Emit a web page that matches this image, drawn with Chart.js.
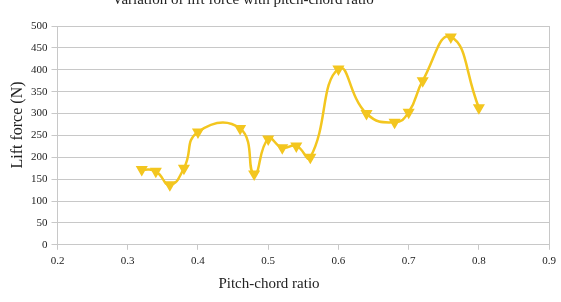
<!DOCTYPE html>
<html>
<head>
<meta charset="utf-8">
<script src="https://cdn.jsdelivr.net/npm/chart.js@4/dist/chart.umd.min.js"></script>
<style>
  html, body { margin: 0; padding: 0; background: #fff; }
  #wrap { width: 561px; height: 302px; }
</style>
</head>
<body>
<div id="wrap"><canvas id="liftChart" width="561" height="302"></canvas></div>
<script>
const pitchChord = [0.32, 0.34, 0.36, 0.38, 0.40, 0.46, 0.48, 0.50, 0.52, 0.54, 0.56, 0.60, 0.64, 0.68, 0.70, 0.72, 0.76, 0.80]
const liftForce = [172, 168, 137, 175, 258, 266, 162, 242, 222, 226, 200, 402, 300, 280, 303, 375, 475, 313]
const xTicks = [0.2, 0.3, 0.4, 0.5, 0.6, 0.7, 0.8, 0.9]
const yTicks = [0, 50, 100, 150, 200, 250, 300, 350, 400, 450, 500]

const serif = "'Liberation Serif', 'DejaVu Serif', serif"
const gridGrey = '#c8c8c8'
const lineYellow = '#f3c61f'

// Excel puts the titles relative to the whole chart, not the plot area
const freeTitles = {
    id: 'freeTitles',
    afterDraw(chart) {
        const ctx = chart.ctx
        ctx.save()
        ctx.fillStyle = '#222'
        ctx.textAlign = 'center'
        ctx.textBaseline = 'alphabetic'
        ctx.font = '15px ' + serif
        ctx.fillText('Variation of lift force with pitch-chord ratio', 243, 4)
        ctx.fillText('Pitch-chord ratio', 269, 288)
        ctx.translate(18, 125)
        ctx.rotate(-Math.PI / 2)
        ctx.textBaseline = 'middle'
        ctx.font = '16px ' + serif
        ctx.fillText('Lift force (N)', 0, 0)
        ctx.restore()
    }
}

new Chart(document.getElementById('liftChart'), {
    type: 'line',
    data: {
        datasets: [{
            label: 'Lift force',
            data: pitchChord.map((x, i) => ({x, y: liftForce[i]})),
            borderColor: lineYellow,
            backgroundColor: lineYellow,
            borderWidth: 2.5,
            tension: 0.5,
            pointStyle: 'triangle',
            rotation: 180,
            pointRadius: 4.5,
            pointHoverRadius: 4.5,
            fill: false
        }]
    },
    options: {
        responsive: false,
        animation: false,
        layout: {padding: {top: 26, right: 11, left: 27, bottom: 29}},
        plugins: {
            legend: {display: false},
            tooltip: {enabled: false},
            title: {display: false}
        },
        scales: {
            x: {
                type: 'linear',
                min: 0.2,
                max: 0.9,
                afterBuildTicks: axis => { axis.ticks = xTicks.map(value => ({value})) },
                ticks: {
                    color: '#222',
                    font: {family: serif, size: 11},
                    padding: 5,
                    callback: v => v.toFixed(1)
                },
                grid: {
                    color: ctx => ctx.tick && ctx.tick.value === 0.9 ? gridGrey : 'rgba(0,0,0,0)',
                    tickColor: gridGrey,
                    tickLength: 5,
                    lineWidth: 1
                },
                border: {color: gridGrey}
            },
            y: {
                min: 0,
                max: 500,
                afterBuildTicks: axis => { axis.ticks = yTicks.map(value => ({value})) },
                ticks: {
                    color: '#222',
                    font: {family: serif, size: 11},
                    padding: 4
                },
                grid: {
                    color: gridGrey,
                    tickColor: gridGrey,
                    tickLength: 6,
                    lineWidth: 1
                },
                border: {color: gridGrey}
            }
        }
    },
    plugins: [freeTitles]
});
</script>
</body>
</html>
